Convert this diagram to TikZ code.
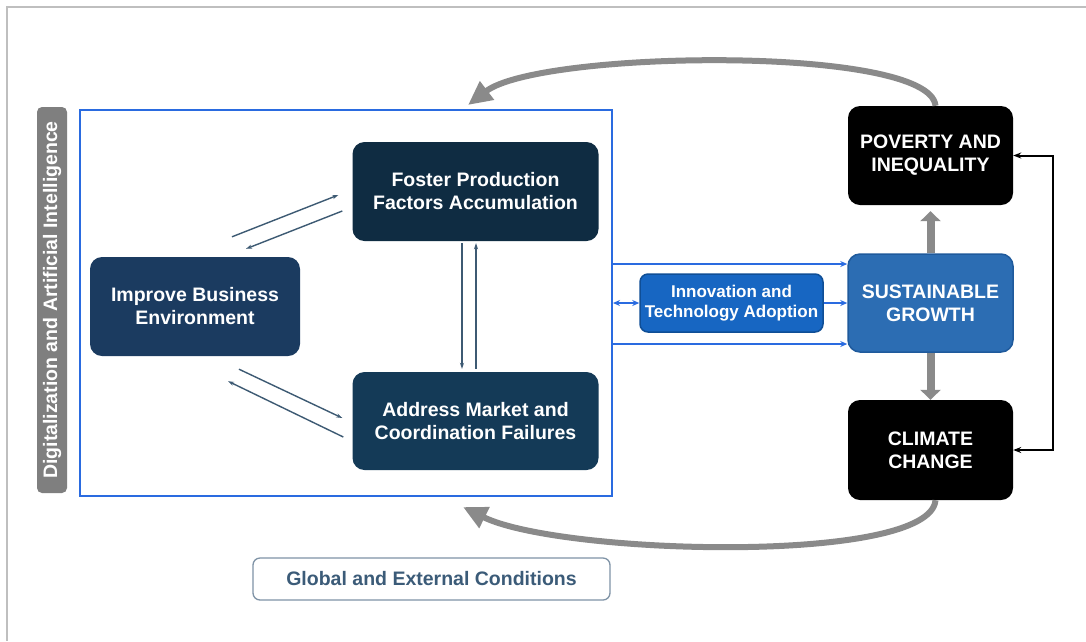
\documentclass[tikz,border=0pt]{standalone}
\usepackage{fontspec}
\setmainfont{Liberation Sans}
\usetikzlibrary{arrows.meta,calc}
\definecolor{framegray}{HTML}{BFBFBF}
\definecolor{labelgray}{HTML}{7F7F7F}
\definecolor{arcgray}{HTML}{8A8A8A}
\definecolor{navyA}{HTML}{1B3B60}
\definecolor{navyB}{HTML}{0F2C42}
\definecolor{navyC}{HTML}{143A57}
\definecolor{innovblue}{HTML}{1766C2}
\definecolor{innovborder}{HTML}{0F4E96}
\definecolor{sustblue}{HTML}{2C6DB3}
\definecolor{sustborder}{HTML}{1F5A9C}
\definecolor{brightblue}{HTML}{2A6BE0}
\definecolor{steel}{HTML}{3D5A73}
\definecolor{globaltext}{HTML}{3B5B78}
\definecolor{globalborder}{HTML}{7F93A6}
\begin{document}
\begin{tikzpicture}[x=1pt,y=-1pt,
  box/.style={rounded corners=12pt, text=white, align=center, inner sep=0pt,
    font=\bfseries\fontsize{19.5}{23}\selectfont},
  thin/.style={draw=steel, line width=1.4pt, -{Stealth[length=6pt,width=4pt]}},
  bluearrow/.style={draw=brightblue, line width=2.2pt, -{Stealth[length=7pt,width=6pt]}},
  thick/.style={draw=arcgray, line width=8pt, -{Triangle[length=10pt,width=20pt]}},
  bigarc/.style={draw=arcgray, line width=6pt, -{Triangle[length=24pt,width=22pt]}}]
\fill[white] (0,0) rectangle (1086,641);
\useasboundingbox (0,0) rectangle (1086,641);
\draw[framegray, line width=2pt] (1086,7) -- (7,7) -- (7,641);

% label
\node[rotate=90, fill=labelgray, rounded corners=5pt, minimum width=386pt, minimum height=30pt,
  inner sep=0pt, text=white, font=\bfseries\fontsize{19.5}{22}\selectfont] (dai) at (52,300)
  {Digitalization and Artificial Intelligence};

% frame
\node[draw=brightblue, line width=2pt, minimum width=532pt, minimum height=386pt, inner sep=0pt] (frame) at (346,303) {};

% boxes
\node[box, fill=navyA, minimum width=210pt, minimum height=99pt] (improve) at (195,306.5) {Improve Business\\Environment};
\node[box, fill=navyB, minimum width=246pt, minimum height=99pt] (foster) at (475.5,191.5) {Foster Production\\Factors Accumulation};
\node[box, fill=navyC, minimum width=246pt, minimum height=98pt] (address) at (475.5,421) {Address Market and\\Coordination Failures};
\node[box, fill=innovblue, draw=innovborder, line width=1.5pt, rounded corners=8pt, minimum width=183pt, minimum height=58pt,
  font=\bfseries\fontsize{17}{19.5}\selectfont] (innov) at (731.5,303) {Innovation and\\Technology Adoption};
\node[box, fill=sustblue, draw=sustborder, line width=1.5pt, minimum width=165pt, minimum height=98pt] (sustain) at (930.5,303) {SUSTAINABLE\\GROWTH};
\node[box, fill=black, minimum width=165pt, minimum height=99pt] (poverty) at (930.5,155.5) {POVERTY AND\\INEQUALITY};
\node[box, fill=black, minimum width=165pt, minimum height=100pt] (climate) at (930.5,450) {CLIMATE\\CHANGE};
\node[draw=globalborder, line width=1.3pt, fill=white, rounded corners=7pt, minimum width=357pt, minimum height=42pt,
  inner sep=0pt, text=globaltext, font=\bfseries\fontsize{19.5}{22}\selectfont] (global) at (431.5,579) {Global and External Conditions};

% thin arrows
\draw[thin] ([shift={(37,-20)}]improve.north) -- ([shift={(-14,3.5)}]foster.west);
\draw[thin] ([shift={(-10,19.5)}]foster.west) -- ([shift={(51,-8)}]improve.north);
\draw[thin] ([shift={(44,13)}]improve.south) -- ([shift={(-10,-3)}]address.west);
\draw[thin] ([shift={(-9,16)}]address.west) -- ([shift={(33,25)}]improve.south);
\draw[thin] ([shift={(-13.5,2)}]foster.south) -- ([shift={(-13.5,-3)}]address.north);
\draw[thin] ([shift={(0.5,-3)}]address.north) -- ([shift={(0.5,2)}]foster.south);

% blue arrows
\draw[bluearrow] ([shift={(0,-39)}]frame.east) -- ([shift={(0,-39)}]sustain.west);
\draw[bluearrow] ([shift={(0,41)}]frame.east) -- ([shift={(0,41)}]sustain.west);
\draw[bluearrow, {Stealth[length=7pt,width=6pt]}-{Stealth[length=7pt,width=6pt]}] (frame.east) -- (innov.west);
\draw[bluearrow] (innov.east) -- (sustain.west);

% gray thick arrows
\draw[thick] (sustain.north) -- ([yshift=-6pt]poverty.south);
\draw[thick] (sustain.south) -- (climate.north);

% right black connector
\draw[black, line width=2pt, {Stealth[length=8pt,width=6pt]}-{Stealth[length=8pt,width=6pt]}]
  (poverty.east) -- ++(40,0) |- (climate.east);

% big arcs
\draw[bigarc] ([xshift=5pt]poverty.north) .. controls (930,45) and (540,50) .. ([shift={(122,-4)}]frame.north);
\draw[bigarc] ([xshift=5pt]climate.south) .. controls (930,565) and (560,555) .. ([shift={(117,10)}]frame.south);
\end{tikzpicture}
\end{document}
